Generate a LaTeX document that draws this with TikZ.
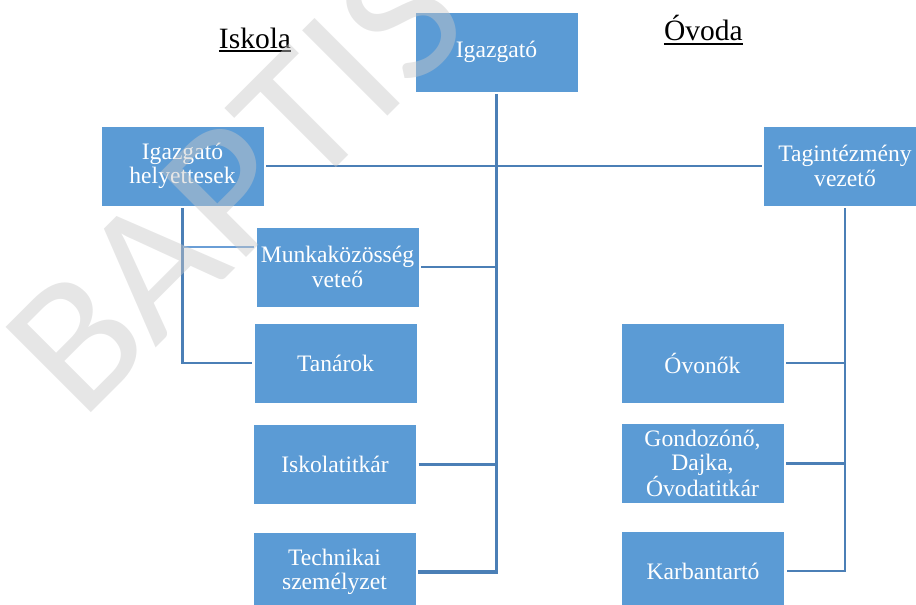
\documentclass[tikz,border=0pt]{standalone}
\usepackage{fontspec}
\setmainfont{Liberation Serif}
\newfontfamily\wmfont{Carlito}
\usetikzlibrary{calc}
\definecolor{boxblue}{HTML}{5B9BD5}
\definecolor{linkblue}{HTML}{4B7FB6}
\definecolor{lightlink}{HTML}{6A9ED6}
\definecolor{wmgray}{HTML}{C8C8C8}
\begin{document}
\begin{tikzpicture}[x=1bp,y=-1bp,
  orgbox/.style={rectangle, fill=boxblue, draw=white, line width=0.8bp,
    minimum width=163bp, minimum height=80bp, inner sep=0pt, outer sep=2bp,
    text=white, align=center, font=\fontsize{23.6bp}{24.4bp}\selectfont},
  link/.style={draw=linkblue, line width=2.6bp},
  mainlink/.style={draw=linkblue, line width=3.4bp},
  sublink/.style={draw=linkblue, line width=2.4bp},
  thinlink/.style={draw=lightlink, line width=1.8bp},
  titletext/.style={font=\fontsize{29.5bp}{30bp}\selectfont, inner sep=0pt, anchor=base},
  ulinestyle/.style={draw=black, line width=1.8bp},
  wmark/.style={font=\wmfont\fontsize{188bp}{188bp}\selectfont, text=wmgray,
    text opacity=0.45, inner sep=0pt, anchor=base west, rotate=45}
  ]
\useasboundingbox (0,0) rectangle (916,605);

% titles
\node[titletext] (iskt) at (255,48.3) {Iskola};
\node[titletext] (ovt) at (703.5,40.7) {Óvoda};
\draw[ulinestyle] ($(iskt.base west)+(0,3)$) -- ($(iskt.base east)+(0,3)$);
\draw[ulinestyle] ($(ovt.base west)+(0,3.5)$) -- ($(ovt.base east)+(0,3.5)$);

% boxes
\node[orgbox] (dir)  at (496.5,52)  {Igazgató};
\node[orgbox] (hely) at (182.5,166) {Igazgató\\helyettesek};
\node[orgbox] (tag)  at (845,166)   {Tagintézmény\\vezető};
\node[orgbox] (munk) at (337.5,267) {Munkaközösség\\veteő};
\node[orgbox] (tan)  at (335.5,363) {Tanárok};
\node[orgbox] (isk)  at (335,464.7) {Iskolatitkár};
\node[orgbox] (tech) at (334.5,572) {Technikai\\személyzet};
\node[orgbox] (ovo)  at (702.5,363) {Óvonők};
\node[orgbox] (gond) at (702.5,463.5) {Gondozónő,\\Dajka,\\Óvodatitkár};
\node[orgbox] (karb) at (703,571)   {Karbantartó};

% connectors
\draw[mainlink] (dir.south) |- (tech.east);
\draw[link] (hely.east) -- (tag.west);
\draw[link] (munk.east) -- (munk.east -| dir.south);
\draw[link] (isk.east) -- (isk.east -| dir.south);

\coordinate (mb) at ($(munk.west)+(0,-20)$);
\draw[sublink] (hely.south) |- (tan.west);
\draw[thinlink] (hely.south |- mb) -- (mb);

\draw[link] (tag.south) |- (karb.east);
\draw[link] (ovo.east) -- (ovo.east -| tag.south);
\draw[link] (gond.east) -- (gond.east -| tag.south);

% watermark
\node[wmark] (wm) at (81,423) {\scalebox{1.05}[1]{BAPTIS}};
\end{tikzpicture}
\end{document}
